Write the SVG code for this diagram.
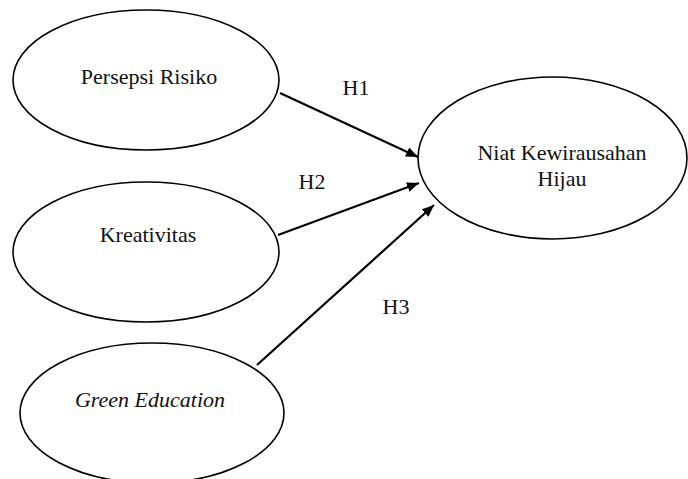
<svg xmlns="http://www.w3.org/2000/svg" width="688" height="479" viewBox="0 0 688 479">
<defs>
<style>
.node{fill:#fff;stroke:#000;stroke-width:1.6}
.lbl{font-family:"Liberation Serif","Times New Roman",serif;font-size:22px;fill:#111;text-anchor:middle}
.conn{stroke:#000;stroke-width:2.2;fill:none}
</style>
<marker id="ah" markerWidth="12" markerHeight="10" refX="12" refY="5" orient="auto" markerUnits="userSpaceOnUse">
<path d="M0,0 L12,5 L0,10 z" fill="#000"/>
</marker>
</defs>
<rect width="688" height="479" fill="#fff"/>
<g id="n1"><ellipse class="node" cx="146" cy="80" rx="133" ry="70"/><text class="lbl" x="149" y="84">Persepsi Risiko</text></g>
<g id="n2"><ellipse class="node" cx="146" cy="252" rx="133" ry="70"/><text class="lbl" x="148" y="242">Kreativitas</text></g>
<g id="n3"><ellipse class="node" cx="152" cy="413" rx="132" ry="70"/><text class="lbl" x="150" y="407" font-style="italic">Green Education</text></g>
<g id="n4"><ellipse class="node" cx="552.5" cy="158" rx="134.5" ry="81"/><text class="lbl" x="562" y="160">Niat Kewirausahan</text><text class="lbl" x="562" y="186">Hijau</text></g>
<g id="connectors">
<line class="conn" x1="280" y1="93" x2="418" y2="157" marker-end="url(#ah)"/>
<line class="conn" x1="278" y1="235" x2="419" y2="183" marker-end="url(#ah)"/>
<line class="conn" x1="257" y1="365" x2="434" y2="205" marker-end="url(#ah)"/>
<text class="lbl" x="356" y="95">H1</text>
<text class="lbl" x="312" y="189">H2</text>
<text class="lbl" x="396" y="314">H3</text>
</g>
</svg>
